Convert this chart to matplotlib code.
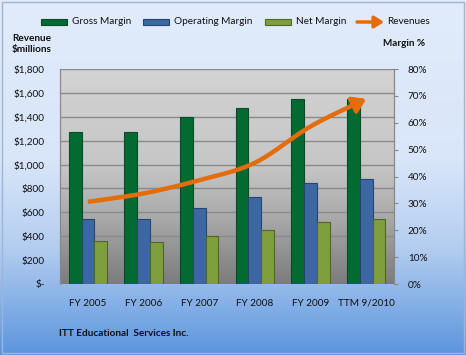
import numpy as np
import matplotlib
matplotlib.use("Agg")
import matplotlib.pyplot as plt
from matplotlib.patches import Rectangle
from matplotlib.colors import LinearSegmentedColormap

categories = ["FY 2005", "FY 2006", "FY 2007", "FY 2008", "FY 2009", "TTM 9/2010"]
gross_margin = [56.7, 56.7, 62.0, 65.4, 68.7, 68.7]
operating_margin = [24.3, 24.3, 28.2, 32.3, 37.5, 39.0]
net_margin = [16.1, 15.7, 17.7, 20.2, 23.0, 24.1]
revenues = [688, 758, 869, 1015, 1319, 1550]
left_ticks = [0, 200, 400, 600, 800, 1000, 1200, 1400, 1600, 1800]
left_labels = ["$-", "$200", "$400", "$600", "$800", "$1,000", "$1,200", "$1,400", "$1,600", "$1,800"]
right_ticks = [0, 10, 20, 30, 40, 50, 60, 70, 80]
right_labels = ["0%", "10%", "20%", "30%", "40%", "50%", "60%", "70%", "80%"]

FONT = ["Lato", "DejaVu Sans"]
plt.rcParams['font.family'] = FONT
FS = 7.2
TXT = "#111111"

fig = plt.figure(figsize=(4.66, 3.55), dpi=100)

# figure background gradient
bg = fig.add_axes([0, 0, 1, 1], zorder=-10)
bg_cmap = LinearSegmentedColormap.from_list("bg", [(0, "#E1EBFB"), (0.45, "#D9E6F9"), (0.7, "#B3CDF0"), (1.0, "#5C95DE")])
bg.imshow(np.linspace(0, 1, 256).reshape(-1, 1), aspect="auto", cmap=bg_cmap, extent=[0, 1, 0, 1], origin="upper")
bg.set_xlim(0, 1); bg.set_ylim(0, 1)
bg.axis("off")
bg.add_patch(Rectangle((0.004, 0.006), 0.991, 0.988, fill=False, edgecolor="#9DB5D6", lw=1.0))

ax = fig.add_axes([0.1288, 0.2, 0.7167, 0.6056])
ax2 = ax.twinx()
ax.set_zorder(ax2.get_zorder() + 1)
ax.patch.set_visible(False)

x = np.arange(len(categories))
ax.set_xlim(-0.5, len(categories) - 0.5)
ax.set_ylim(0, 1800)
ax2.set_ylim(0, 80)

# plot area gradient
pa_cmap = LinearSegmentedColormap.from_list("pa", [(0, "#D3D3D3"), (0.45, "#C6C6C6"), (0.7, "#A8A8A8"), (1.0, "#7C7C7C")])
ax2.imshow(np.linspace(0, 1, 256).reshape(-1, 1), aspect="auto", cmap=pa_cmap,
           extent=[-0.5, len(categories) - 0.5, 0, 80], origin="upper", zorder=0)
ax2.set_xlim(-0.5, len(categories) - 0.5)
ax2.set_ylim(0, 80)

for t in left_ticks[1:]:
    ax2.axhline(t / 1800 * 80, color="#8A8A8A", lw=1.0, zorder=1)

w = 0.228
ax2.bar(x - w, gross_margin, w, color="#036B32", edgecolor="#0B4A26", lw=0.8, zorder=3)
ax2.bar(x, operating_margin, w, color="#3D67A0", edgecolor="#27466F", lw=0.8, zorder=3)
ax2.bar(x + w, net_margin, w, color="#7F9E3E", edgecolor="#51672A", lw=0.8, zorder=3)

# smoothed revenue line (Catmull-Rom through data points)
def catmull(xs, ys, n=30):
    pts = np.column_stack([xs, ys]).astype(float)
    p = np.vstack([pts[0] - (pts[1] - pts[0]), pts, pts[-1] + (pts[-1] - pts[-2])])
    out = []
    for i in range(1, len(p) - 2):
        p0, p1, p2, p3 = p[i - 1], p[i], p[i + 1], p[i + 2]
        for t in np.linspace(0, 1, n, endpoint=False):
            t2, t3 = t * t, t * t * t
            out.append(0.5 * ((2 * p1) + (-p0 + p2) * t + (2 * p0 - 5 * p1 + 4 * p2 - p3) * t2 + (-p0 + 3 * p1 - 3 * p2 + p3) * t3))
    out.append(p[-2])
    return np.array(out)

curve = catmull(x, revenues)
ax.plot(curve[:-6, 0], curve[:-6, 1], color="#E46C0A", lw=3.2, solid_capstyle="butt", zorder=5)
ax.annotate("", xy=(curve[-1, 0], curve[-1, 1]), xytext=(curve[-8, 0], curve[-8, 1]),
            arrowprops=dict(arrowstyle="-|>,head_length=0.75,head_width=0.5", color="#E46C0A", lw=3.2,
                            shrinkA=0, shrinkB=0), zorder=6)

ax.set_yticks(left_ticks)
ax.set_yticklabels(left_labels, fontsize=FS, color=TXT)
ax2.set_yticks(right_ticks)
ax2.set_yticklabels(right_labels, fontsize=FS, color=TXT)
ax.set_xticks(x)
ax.set_xticklabels(categories, fontsize=FS, color=TXT)
for lbl in ax.get_xticklabels():
    lbl.set_verticalalignment("baseline")
ax.tick_params(axis="x", length=0, pad=15.5)
ax.tick_params(axis="y", length=0, pad=11)
ax2.tick_params(axis="y", length=3, color="#888888", pad=7)

for a in (ax, ax2):
    for s in ("top", "bottom"):
        a.spines[s].set_visible(False)
    a.spines["left"].set_color("#888888")
    a.spines["right"].set_color("#888888")

# axis titles
fig.text(0.068, 0.876, "Revenue\n$millions", fontsize=FS, fontweight="bold", ha="center", va="center",
         color=TXT, linespacing=1.3)
fig.text(0.868, 0.877, "Margin %", fontsize=FS, fontweight="bold", ha="center", va="center", color=TXT)
fig.text(0.127, 0.060, "ITT Educational  Services Inc.", fontsize=FS, fontweight="bold", ha="left", va="center", color=TXT)

# legend
ly = 1 - 22 / 355
items = [(41 / 466, "#036B32", "#0B4A26", "Gross Margin"),
         (143 / 466, "#3D67A0", "#27466F", "Operating Margin"),
         (265 / 466, "#7F9E3E", "#51672A", "Net Margin")]
for lx, fc, ec, lab in items:
    bg.add_patch(Rectangle((lx, ly - 3 / 355), 26 / 466, 6 / 355, facecolor=fc, edgecolor=ec, lw=0.8))
    fig.text(lx + 31 / 466, ly, lab, fontsize=FS, ha="left", va="center", color=TXT)
bg.annotate("", xy=(384 / 466, ly), xytext=(357 / 466, ly),
            arrowprops=dict(arrowstyle="-|>,head_length=0.55,head_width=0.35", color="#E46C0A", lw=2.5,
                            shrinkA=0, shrinkB=0))
fig.text(387 / 466, ly, "Revenues", fontsize=FS, ha="left", va="center", color=TXT)

fig.savefig("out.png", dpi=100)
